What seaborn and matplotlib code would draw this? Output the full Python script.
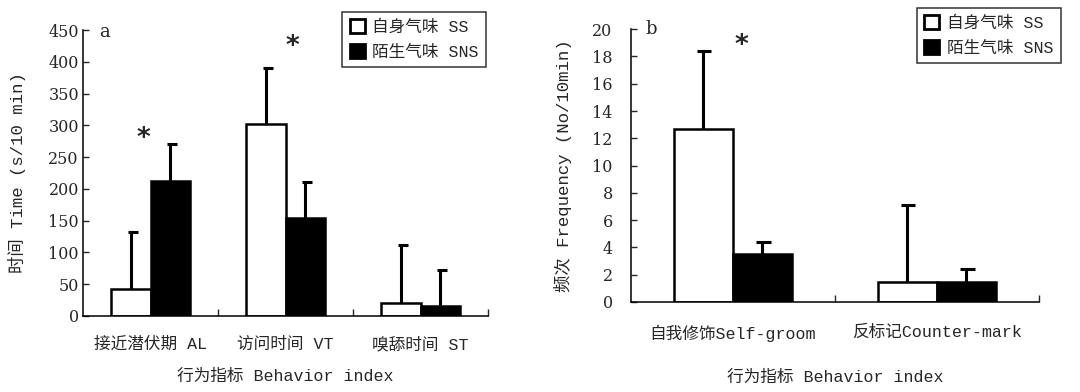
import numpy as np
import pandas as pd
import matplotlib
matplotlib.use('Agg')
import matplotlib.pyplot as plt
from matplotlib.patches import Patch
import seaborn as sns

# data
odors = ['自身气味 SS', '陌生气味 SNS']
beh_a = ['接近潜伏期 AL', '访问时间 VT', '嗅舔时间 ST']
ss_a = [42, 302, 20]
ss_a_err = [90, 88, 92]
sns_a = [213, 155, 15]
sns_a_err = [57, 56, 57]

beh_b = ['自我修饰Self-groom', '反标记Counter-mark']
ss_b = [12.7, 1.5]
ss_b_err = [5.7, 5.6]
sns_b = [3.5, 1.5]
sns_b_err = [0.9, 0.9]

sns.set_theme(style='ticks')
num_font = ['DejaVu Serif', 'Noto Sans CJK SC']
txt_font = ['Liberation Mono', 'Noto Sans CJK SC']
plt.rcParams['font.family'] = num_font

fig = plt.figure(figsize=(10.8, 3.92), dpi=100)
ax1 = fig.add_axes([0.0769, 0.194, 0.375, 0.729])
ax2 = fig.add_axes([0.584, 0.2296, 0.378, 0.696])


def panel(ax, cats, ss, ss_err, sn, sn_err, ymax, yticks, ylab, ypad, capw, xpad, lpad):
    df = pd.DataFrame({
        'beh': cats * 2,
        'odor': [odors[0]] * len(cats) + [odors[1]] * len(cats),
        'val': ss + sn,
    })
    sns.barplot(data=df, x='beh', y='val', hue='odor', order=cats,
                hue_order=odors, palette=['white', 'black'],
                edgecolor='black', linewidth=1.8, width=0.58,
                errorbar=None, legend=False, ax=ax)
    errs = ss_err + sn_err
    for p, e in zip(ax.patches, errs):
        xc = p.get_x() + p.get_width() / 2
        top = p.get_height()
        ax.vlines(xc, top, top + e, color='black', lw=2.2)
        ax.hlines(top + e, xc - capw[0], xc + capw[1], color='black', lw=2.2)
    ax.set_xlim(-0.5, len(cats) - 0.5)
    ax.set_ylim(0, ymax)
    ax.set_yticks(yticks)
    ax.set_xticks(np.arange(len(cats)))
    ax.set_xticklabels(cats, family=txt_font, fontsize=12)
    ax.set_xticks(np.arange(len(cats)) + 0.5, minor=True)
    ax.tick_params(axis='x', which='major', length=0, pad=xpad)
    ax.tick_params(axis='x', which='minor', direction='in', length=5, width=1)
    ax.tick_params(axis='y', direction='in', length=4, width=1, labelsize=11.5, pad=ypad)
    for lab in ax.get_yticklabels():
        lab.set_family(num_font)
    sns.despine(ax=ax)
    for s in ['left', 'bottom']:
        ax.spines[s].set_linewidth(1.1)
        ax.spines[s].set_color('black')
    ax.set_xlabel('行为指标 Behavior index', family=txt_font, fontsize=12, labelpad=lpad)
    ax.set_ylabel(ylab, family=txt_font, fontsize=12.5)


panel(ax1, beh_a, ss_a, ss_a_err, sns_a, sns_a_err, 450,
      np.arange(0, 451, 50), '时间 Time (s/10 min)', 3, (0.02, 0.05), 15, 12)
panel(ax2, beh_b, ss_b, ss_b_err, sns_b, sns_b_err, 20,
      np.arange(0, 21, 2), '频次 Frequency (No/10min)', 13, (0.03, 0.04), 16, 20)
ax1.yaxis.set_label_coords(-0.14, 0.5)
ax2.yaxis.set_label_coords(-0.145, 0.5)

# panel letters and significance marks
ax1.text(-0.34, 447, 'a', fontsize=13, va='center', ha='center')
ax2.text(-0.4, 20, 'b', fontsize=13, va='center', ha='center')
star = dict(fontsize=19, ha='center', va='center', family='DejaVu Sans', weight='bold')
ax1.text(-0.056, 278, '*', **star)
ax1.text(1.05, 423, '*', **star)
ax2.text(0.04, 18.8, '*', **star)

handles = [Patch(facecolor='white', edgecolor='black', lw=2),
           Patch(facecolor='black', edgecolor='black', lw=2)]
for bb in [(0.45, 0.97), (0.982, 0.98)]:
    leg = fig.legend(handles, odors, loc='upper right', bbox_to_anchor=bb,
                     frameon=True, fancybox=False, handlelength=0.9,
                     handleheight=0.9, handletextpad=0.45, borderpad=0.45,
                     labelspacing=0.55, borderaxespad=0,
                     prop={'family': txt_font, 'size': 12})
    leg.get_frame().set_edgecolor('black')
    leg.get_frame().set_linewidth(1.1)

fig.savefig('out.png', dpi=100)
